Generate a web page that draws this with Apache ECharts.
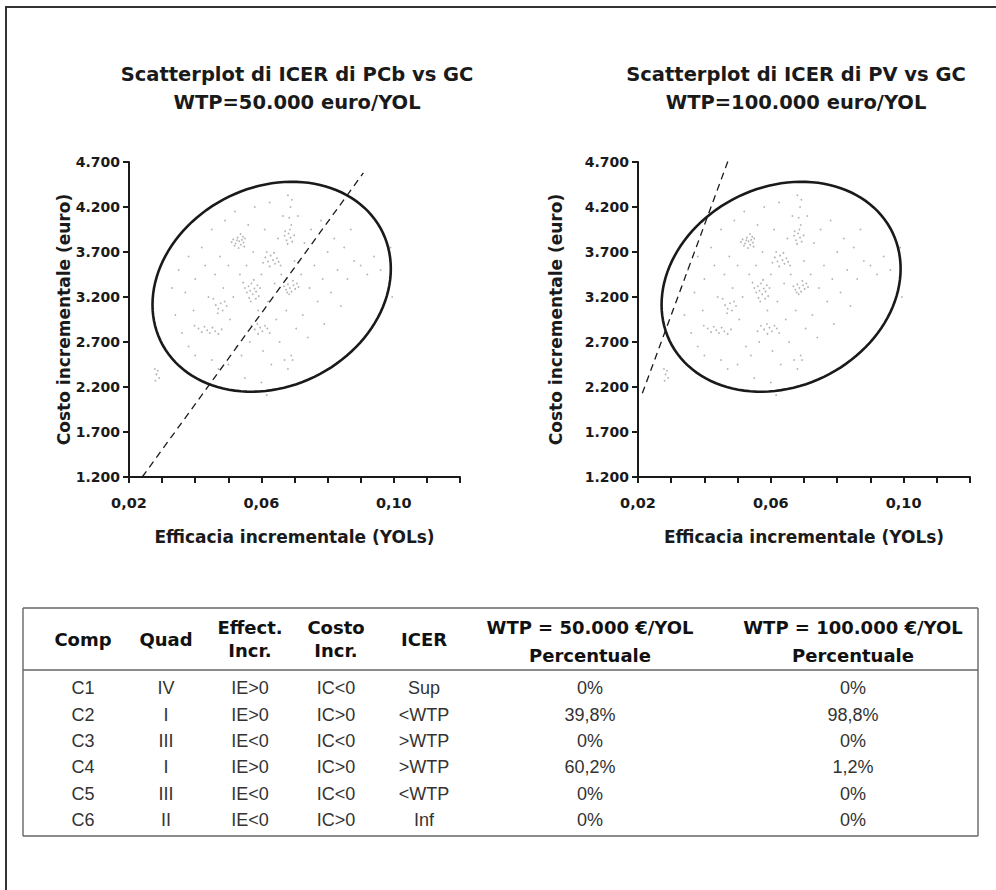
<!DOCTYPE html>
<html><head><meta charset="utf-8">
<script src="https://cdn.jsdelivr.net/npm/echarts/dist/echarts.min.js"></script>
<style>html,body{margin:0;padding:0;background:#fff}#chart{width:996px;height:890px}</style>
</head><body><div id="chart"></div>
<script>
// ---------------- data ----------------
const titleLeft = ['Scatterplot di ICER di PCb vs GC', 'WTP=50.000 euro/YOL'];
const titleRight = ['Scatterplot di ICER di PV vs GC', 'WTP=100.000 euro/YOL'];
const xAxisName = 'Efficacia incrementale (YOLs)';
const yAxisName = 'Costo incrementale (euro)';
const xMin = 0.02, xMax = 0.12, xStep = 0.01;
const xLabelValues = [0.02, 0.06, 0.10];
const yMin = 1200, yMax = 4700, yStep = 500;

// simulated ICER cloud
const cloudPoints = [
  [0.0515,3840],[0.0522,3795],[0.0528,3860],[0.0533,3820],[0.0538,3780],[0.0541,3835],[0.0546,3805],[0.0550,3850],[0.0519,3770],[0.0531,3745],[0.0544,3870],[0.0537,3900],[0.0510,3810],[0.0526,3830],[0.0548,3760],
  [0.0670,3880],[0.0676,3830],[0.0682,3905],[0.0688,3860],[0.0693,3815],[0.0679,3790],[0.0699,3885],[0.0686,3950],[0.0672,3930],[0.0690,4000],[0.0684,4080],[0.0688,4200],[0.0692,4280],[0.0680,4330],
  [0.0612,3640],[0.0620,3595],[0.0628,3660],[0.0635,3610],[0.0641,3570],[0.0647,3630],[0.0652,3590],[0.0625,3540],[0.0638,3690],[0.0605,3580],[0.0658,3550],[0.0616,3700],
  [0.0550,3300],[0.0556,3250],[0.0561,3320],[0.0566,3270],[0.0570,3350],[0.0574,3230],[0.0579,3295],[0.0584,3260],[0.0588,3330],[0.0592,3210],[0.0563,3190],[0.0577,3390],[0.0545,3360],[0.0596,3300],[0.0568,3150],[0.0583,3180],
  [0.0668,3320],[0.0674,3280],[0.0680,3340],[0.0686,3300],[0.0691,3260],[0.0697,3330],[0.0702,3290],[0.0707,3350],[0.0712,3310],[0.0684,3230],[0.0695,3380],[0.0678,3250],
  [0.0462,3110],[0.0470,3070],[0.0477,3130],[0.0483,3050],[0.0468,3020],[0.0489,3150],[0.0455,3180],[0.0495,3100],
  [0.0410,2850],[0.0420,2810],[0.0428,2870],[0.0436,2830],[0.0444,2800],[0.0452,2860],[0.0460,2820],[0.0398,2880],[0.0470,2790],[0.0480,2840],
  [0.0570,2880],[0.0580,2840],[0.0588,2900],[0.0596,2860],[0.0603,2820],[0.0611,2880],[0.0618,2850],[0.0590,2790],[0.0560,2820],[0.0625,2800],
  [0.0278,2400],[0.0283,2340],[0.0287,2380],[0.0291,2300],[0.0280,2270],
  [0.0350,3500],[0.0370,3250],[0.0380,3650],[0.0395,3050],[0.0400,3400],[0.0420,3750],[0.0430,3550],[0.0440,3200],[0.0450,3950],[0.0460,3450],
  [0.0475,3650],[0.0485,3300],[0.0490,4050],[0.0500,3550],[0.0505,2950],[0.0515,3200],[0.0520,4150],[0.0525,2650],[0.0535,3450],[0.0540,2550],
  [0.0555,3550],[0.0560,4000],[0.0565,2700],[0.0575,3700],[0.0580,4200],[0.0590,3050],[0.0600,3450],[0.0605,2600],[0.0610,3950],[0.0620,3150],
  [0.0625,4250],[0.0630,2450],[0.0640,3350],[0.0645,2950],[0.0650,3850],[0.0655,2700],[0.0660,3450],[0.0665,4100],[0.0670,2500],[0.0675,3050],
  [0.0690,2550],[0.0700,3600],[0.0705,2850],[0.0710,4100],[0.0720,3450],[0.0725,3000],[0.0730,3800],[0.0740,2750],[0.0745,3300],[0.0750,3950],
  [0.0760,3550],[0.0770,3150],[0.0780,4050],[0.0785,3400],[0.0790,2900],[0.0800,3700],[0.0810,3250],[0.0820,3850],[0.0830,3500],[0.0840,3100],
  [0.0850,3750],[0.0860,3400],[0.0870,3950],[0.0880,3600],[0.0900,3550],[0.0920,3450],[0.0940,3650],[0.0960,3500],[0.0990,3750],[0.0995,3200],
  [0.0380,2650],[0.0400,2550],[0.0450,2500],[0.0470,2400],[0.0500,2450],[0.0550,2300],[0.0600,2250],[0.0616,2110],[0.0694,2500],[0.0680,2400],
  [0.0340,3000],[0.0360,2800],[0.0330,3300]
];

// 95% confidence ellipse: centre and two conjugate semi-axis vectors (data units)
const ellipseCenter = [0.0631, 3314];
const ellipseAxisU = [0.0360, 200];
const ellipseAxisV = [0.0, 1149];
const ellipseSegments = 120;

// WTP threshold lines (end points)
const wtpLineLeft = [[0.0240, 1200], [0.0908, 4578]];
const wtpLineRight = [[0.0213, 2130], [0.0473, 4730]];

// table
const tableHeaders = [['Comp'], ['Quad'], ['Effect.', 'Incr.'], ['Costo', 'Incr.'], ['ICER'], ['WTP = 50.000 €/YOL', 'Percentuale'], ['WTP = 100.000 €/YOL', 'Percentuale']];
const comps = ['C1', 'C2', 'C3', 'C4', 'C5', 'C6'];
const quads = ['IV', 'I', 'III', 'I', 'III', 'II'];
const effects = ['IE>0', 'IE>0', 'IE<0', 'IE>0', 'IE<0', 'IE<0'];
const costs = ['IC<0', 'IC>0', 'IC<0', 'IC>0', 'IC<0', 'IC>0'];
const icers = ['Sup', '<WTP', '>WTP', '>WTP', '<WTP', 'Inf'];
const pct50 = ['0%', '39,8%', '0%', '60,2%', '0%', '0%'];
const pct100 = ['0%', '98,8%', '0%', '1,2%', '0%', '0%'];

// ---------------- layout / style ----------------
const BOLD = 'DejaVu Sans';
const tableColX = [83, 166, 250, 336, 424, 590, 853];
const rowY = [688, 715, 741, 767, 794, 820];
const tableTop = 608, tableHeadBottom = 670, tableBottom = 836, tableLeft = 23, tableRight = 978;

function fmtY(v) { return String(v).replace(/\B(?=(\d{3})+(?!\d))/g, '.'); }
function fmtX(v) {
  const k = Math.round(v * 100);
  return xLabelValues.some(l => Math.round(l * 100) === k) ? v.toFixed(2).replace('.', ',') : '';
}

function makeXAxis(i) {
  return {
    type: 'value', gridIndex: i, min: xMin, max: xMax, interval: xStep,
    name: xAxisName, nameLocation: 'middle', nameGap: 51, nameMoveOverlap: false,
    nameTextStyle: { fontFamily: BOLD, fontWeight: 'bold', fontSize: 17, color: '#1a1a1a' },
    axisLine: { lineStyle: { color: '#1a1a1a', width: 2 } },
    axisTick: { length: 6, lineStyle: { color: '#1a1a1a', width: 2 } },
    axisLabel: { formatter: fmtX, margin: 18, fontFamily: BOLD, fontWeight: 'bold', fontSize: 14.5, color: '#1a1a1a' },
    splitLine: { show: false }
  };
}
function makeYAxis(i, gap) {
  return {
    type: 'value', gridIndex: i, min: yMin, max: yMax, interval: yStep,
    name: yAxisName, nameLocation: 'middle', nameGap: gap, nameRotate: 90, nameMoveOverlap: false,
    nameTextStyle: { fontFamily: BOLD, fontWeight: 'bold', fontSize: 17, color: '#1a1a1a' },
    axisLine: { lineStyle: { color: '#1a1a1a', width: 2 } },
    axisTick: { length: 6, lineStyle: { color: '#1a1a1a', width: 2 } },
    axisLabel: { formatter: fmtY, margin: 9, fontFamily: BOLD, fontWeight: 'bold', fontSize: 14, color: '#1a1a1a' },
    splitLine: { show: false }
  };
}

function ellipseRender(params, api) {
  const pts = [];
  for (let i = 0; i <= ellipseSegments; i++) {
    const t = 2 * Math.PI * i / ellipseSegments;
    const c = Math.cos(t), s = Math.sin(t);
    pts.push(api.coord([
      ellipseCenter[0] + ellipseAxisU[0] * c + ellipseAxisV[0] * s,
      ellipseCenter[1] + ellipseAxisU[1] * c + ellipseAxisV[1] * s
    ]));
  }
  return { type: 'polygon', shape: { points: pts }, style: { fill: 'none', stroke: '#1a1a1a', lineWidth: 2.6 } };
}

function cloudSeries(i) {
  return { type: 'scatter', xAxisIndex: i, yAxisIndex: i, data: cloudPoints, symbol: 'circle', symbolSize: 1.8,
    itemStyle: { color: 'rgba(50,50,50,0.45)' }, silent: true, z: 1 };
}
function ellipseSeries(i) {
  return { type: 'custom', xAxisIndex: i, yAxisIndex: i, data: [ellipseCenter], renderItem: ellipseRender,
    encode: { x: 0, y: 1 }, silent: true, z: 3, clip: false };
}
function wtpSeries(i, data) {
  return { type: 'line', xAxisIndex: i, yAxisIndex: i, data: data, symbol: 'none', clip: false,
    lineStyle: { color: '#1a1a1a', width: 1.3, type: [7, 5] }, silent: true, z: 4 };
}

// frame and table graphics
const graphics = [];
const lineStyle = { stroke: '#666', lineWidth: 1.4 };
graphics.push({ type: 'line', shape: { x1: 5, y1: 7, x2: 996, y2: 7 }, style: { stroke: '#333', lineWidth: 2 } });
graphics.push({ type: 'line', shape: { x1: 6, y1: 6, x2: 6, y2: 890 }, style: { stroke: '#333', lineWidth: 2 } });
[tableTop, tableHeadBottom, tableBottom].forEach(y =>
  graphics.push({ type: 'line', shape: { x1: tableLeft, y1: y, x2: tableRight, y2: y }, style: lineStyle }));
[tableLeft, tableRight].forEach(x =>
  graphics.push({ type: 'line', shape: { x1: x, y1: tableTop, x2: x, y2: tableBottom }, style: lineStyle }));
tableHeaders.forEach((h, c) => {
  const ys = h.length === 1 ? [639] : (c >= 5 ? [627, 655] : [627, 650]);
  h.forEach((t, k) => graphics.push({ type: 'text', x: tableColX[c], y: ys[k],
    style: { text: t, align: 'center', verticalAlign: 'middle', fill: '#111', font: 'bold 18px "DejaVu Sans"' } }));
});
const bodyCols = [comps, quads, effects, costs, icers, pct50, pct100];
bodyCols.forEach((col, c) => col.forEach((t, r) => graphics.push({ type: 'text', x: tableColX[c], y: rowY[r],
  style: { text: t, align: 'center', verticalAlign: 'middle', fill: '#333', font: '18px "Liberation Sans"' } })));

const option = {
  animation: false,
  backgroundColor: '#fff',
  title: [
    { text: titleLeft.join('\n'), left: 292, top: 55, textAlign: 'center',
      textStyle: { fontFamily: BOLD, fontWeight: 'bold', fontSize: 19.5, lineHeight: 28, color: '#1a1a1a' } },
    { text: titleRight.join('\n'), left: 791, top: 55, textAlign: 'center',
      textStyle: { fontFamily: BOLD, fontWeight: 'bold', fontSize: 19.5, lineHeight: 28, color: '#1a1a1a' } }
  ],
  grid: [
    { left: 129, top: 162, width: 331, height: 315 },
    { left: 638, top: 162, width: 332, height: 315 }
  ],
  xAxis: [makeXAxis(0), makeXAxis(1)],
  yAxis: [makeYAxis(0, 57), makeYAxis(1, 74)],
  series: [
    cloudSeries(0), ellipseSeries(0), wtpSeries(0, wtpLineLeft),
    cloudSeries(1), ellipseSeries(1), wtpSeries(1, wtpLineRight)
  ],
  graphic: graphics
};

const chart = echarts.init(document.getElementById('chart'), null, { renderer: 'svg' });
chart.setOption(option);
</script>
</body></html>
